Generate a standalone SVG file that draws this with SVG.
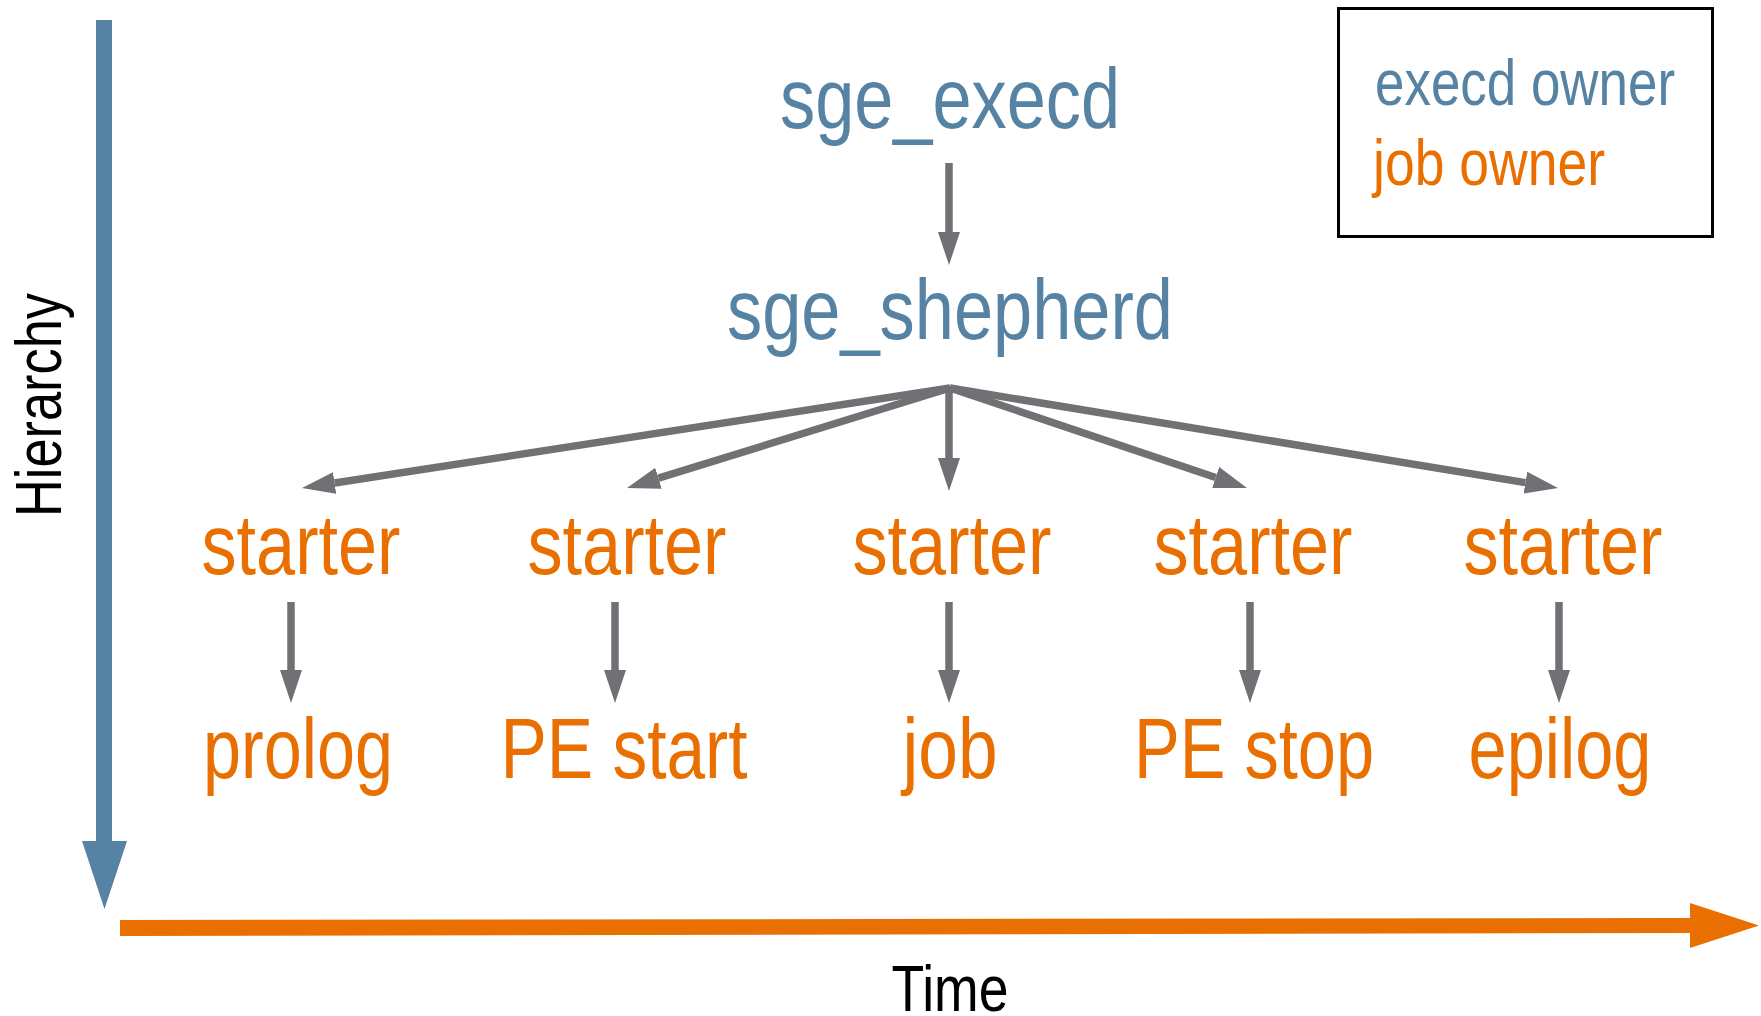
<svg xmlns="http://www.w3.org/2000/svg" width="1761" height="1016" viewBox="0 0 1761 1016">
  <style>
    text { font-family: "Liberation Sans", Arial, sans-serif; }
    .blue { fill: #5682a3; font-size: 85px; text-anchor: middle; }
    .orange { fill: #e86f00; font-size: 85px; text-anchor: middle; }
    .legend { font-size: 64px; }
    .axis { fill: #000000; font-size: 64px; text-anchor: middle; }
    .conn { stroke: #707075; stroke-width: 7.5; fill: none; marker-end: url(#ah); }
  </style>
  <defs>
    <marker id="ah" markerUnits="userSpaceOnUse" markerWidth="34" markerHeight="24" refX="0" refY="12" orient="auto">
      <path d="M0,1 L33,12 L0,23 Z" fill="#707075"/>
    </marker>
  </defs>
  <rect width="1761" height="1016" fill="#ffffff"/>

  <!-- axes -->
  <g id="hierarchy-axis">
    <polygon points="96,20 112,20 112,841 127,841 104.5,909 82,841 96,841" fill="#5682a3"/>
    <text class="axis" transform="translate(61,405) rotate(-90)" font-size="65" textLength="224" lengthAdjust="spacingAndGlyphs">Hierarchy</text>
  </g>
  <g id="time-axis">
    <polygon points="120,920 1690,918 1690,903 1759,925.5 1690,948 1690,933 120,936" fill="#e86f00"/>
    <text class="axis" x="950" y="1011" font-size="63" textLength="117" lengthAdjust="spacingAndGlyphs">Time</text>
  </g>

  <!-- legend -->
  <g id="legend">
    <rect x="1338.5" y="8.5" width="374" height="228" fill="none" stroke="#000000" stroke-width="3"/>
    <text class="legend" x="1375" y="105" fill="#5682a3" textLength="300" lengthAdjust="spacingAndGlyphs">execd owner</text>
    <text class="legend" x="1373" y="185" fill="#e86f00" textLength="232" lengthAdjust="spacingAndGlyphs">job owner</text>
  </g>

  <!-- nodes -->
  <g id="sge_execd"><text class="blue" x="950" y="128" textLength="340" lengthAdjust="spacingAndGlyphs">sge_execd</text></g>
  <g id="sge_shepherd"><text class="blue" x="950" y="339" textLength="446" lengthAdjust="spacingAndGlyphs">sge_shepherd</text></g>

  <g id="starter1"><text class="orange" x="301" y="574" textLength="199" lengthAdjust="spacingAndGlyphs">starter</text></g>
  <g id="starter2"><text class="orange" x="627" y="574" textLength="199" lengthAdjust="spacingAndGlyphs">starter</text></g>
  <g id="starter3"><text class="orange" x="952" y="574" textLength="199" lengthAdjust="spacingAndGlyphs">starter</text></g>
  <g id="starter4"><text class="orange" x="1253" y="574" textLength="199" lengthAdjust="spacingAndGlyphs">starter</text></g>
  <g id="starter5"><text class="orange" x="1563" y="574" textLength="199" lengthAdjust="spacingAndGlyphs">starter</text></g>

  <g id="prolog"><text class="orange" x="298" y="778" textLength="190" lengthAdjust="spacingAndGlyphs">prolog</text></g>
  <g id="pe_start"><text class="orange" x="624" y="778" textLength="247" lengthAdjust="spacingAndGlyphs">PE start</text></g>
  <g id="job"><text class="orange" x="950" y="778" textLength="95" lengthAdjust="spacingAndGlyphs">job</text></g>
  <g id="pe_stop"><text class="orange" x="1254" y="778" textLength="240" lengthAdjust="spacingAndGlyphs">PE stop</text></g>
  <g id="epilog"><text class="orange" x="1560" y="778" textLength="183" lengthAdjust="spacingAndGlyphs">epilog</text></g>

  <!-- connectors -->
  <g id="connectors">
    <line class="conn" x1="949" y1="163" x2="949" y2="232"/>
    <line class="conn" x1="950" y1="388" x2="334.6" y2="483"/>
    <line class="conn" x1="950" y1="388" x2="658.5" y2="478.2"/>
    <line class="conn" x1="949" y1="386" x2="949" y2="458"/>
    <line class="conn" x1="950" y1="388" x2="1215.7" y2="477.5"/>
    <line class="conn" x1="950" y1="388" x2="1525.4" y2="482.6"/>
    <line class="conn" x1="291" y1="602" x2="291" y2="670"/>
    <line class="conn" x1="615" y1="602" x2="615" y2="670"/>
    <line class="conn" x1="949" y1="602" x2="949" y2="670"/>
    <line class="conn" x1="1250" y1="602" x2="1250" y2="670"/>
    <line class="conn" x1="1559" y1="602" x2="1559" y2="670"/>
  </g>
</svg>
